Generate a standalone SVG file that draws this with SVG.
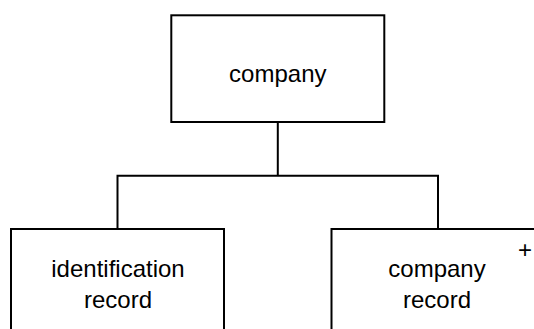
<svg xmlns="http://www.w3.org/2000/svg" width="534" height="329" viewBox="0 0 534 329">
<style>
.box{fill:#fff;stroke:#000;stroke-width:2}
.lbl{font-family:"Liberation Sans",Arial,sans-serif;font-size:24px;fill:#000;text-anchor:middle}
.conn{fill:none;stroke:#000;stroke-width:2}
</style>
<rect width="534" height="329" fill="#fff"/>
<g id="connectors">
<path class="conn" d="M277.8,122 V175.7 M117.5,229 V175.7 H438 V229"/>
</g>
<g id="company">
<rect class="box" x="171.3" y="15.3" width="213" height="106.7"/>
<text class="lbl" x="277.8" y="81.7">company</text>
</g>
<g id="identification-record">
<rect class="box" x="11" y="229" width="213" height="107"/>
<text class="lbl" x="118" y="276.7">identification</text>
<text class="lbl" x="118" y="307.7">record</text>
</g>
<g id="company-record">
<rect class="box" x="331.5" y="229" width="213" height="107"/>
<text class="lbl" x="437" y="277">company</text>
<text class="lbl" x="437" y="307.7">record</text>
<text class="lbl" x="525" y="257.5">+</text>
</g>
</svg>
